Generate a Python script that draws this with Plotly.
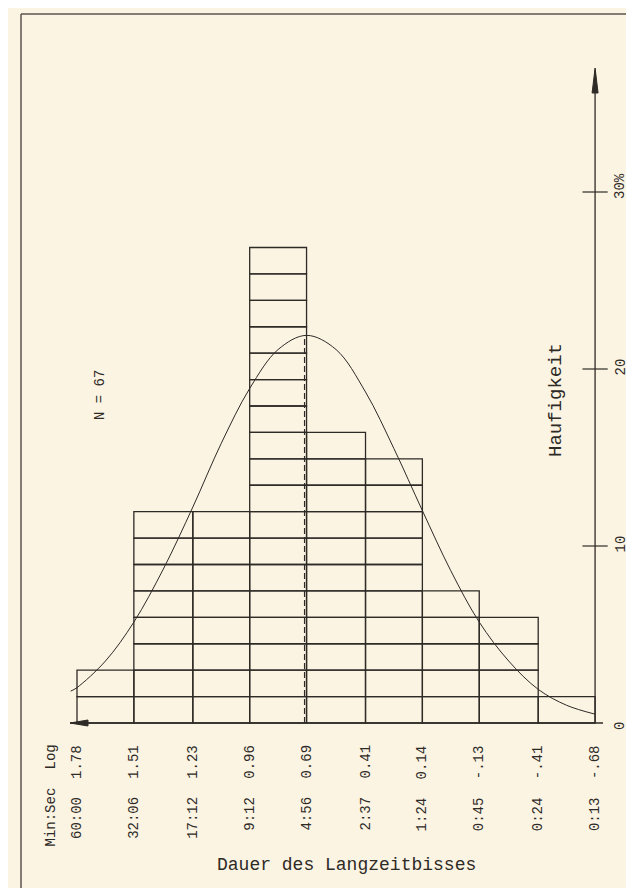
import plotly.graph_objects as go

# bin edges (log10 of minutes) and the two rows of labels under them
log_edges = [1.78, 1.51, 1.23, 0.96, 0.69, 0.41, 0.14, -0.13, -0.41, -0.68]
log_labels = ["1.78", "1.51", "1.23", "0.96", "0.69", "0.41", "0.14", "-.13", "-.41", "-.68"]
minsec_labels = ["60:00", "32:06", "17:12", "9:12", "4:56", "2:37", "1:24", "0:45", "0:24", "0:13"]

# observations per bin, one cell per observation
counts = [2, 8, 8, 18, 11, 10, 5, 4, 1]
n_total = 67

# fitted normal curve (percent)
curve_log = [1.81, 1.78, 1.645, 1.51, 1.37, 1.23, 1.095, 0.96, 0.825, 0.69,
             0.55, 0.41, 0.275, 0.14, 0.005, -0.13, -0.27, -0.41, -0.545, -0.68]
curve_pct = [1.8, 2.0, 3.5, 5.7, 8.7, 12.2, 15.8, 18.9, 21.1, 21.9,
             21.1, 18.7, 15.5, 12.0, 8.6, 5.7, 3.5, 1.9, 1.0, 0.5]
mean_log = 0.69
mean_pct = 21.9

freq_ticks = [0, 10, 20, 30]
freq_labels = ["0", "10", "20", "30%"]

W, H = 634, 888
INK = "#2e2a26"
BG = "#fbf4e3"
FONT = "Liberation Mono"

# page layout: where the first bin edge and the zero line sit, and the scales
X_PX0, PX_LOG = 69, 210.6
Y_PX0, PX_PCT = 715, 17.7


def px_x(p):
    return log_edges[0] - (p - X_PX0) / PX_LOG


def px_y(p):
    return (Y_PX0 - p) / PX_PCT


cell = 100.0 / n_total
bx, bw, bbase = [], [], []
for i, c in enumerate(counts):
    left, right = log_edges[i], log_edges[i + 1]
    for k in range(c):
        bx.append((left + right) / 2)
        bw.append(left - right)
        bbase.append(k * cell)

fig = go.Figure()
fig.add_bar(x=bx, y=[cell] * len(bx), base=bbase, width=bw,
            marker=dict(color="rgba(0,0,0,0)", line=dict(color=INK, width=1.3)),
            hoverinfo="skip")

fig.add_scatter(x=[mean_log + 2 / PX_LOG] * 2, y=[0, mean_pct], mode="lines",
                line=dict(color=INK, width=1.2, dash="6px,3px"))
fig.add_scatter(x=curve_log, y=curve_pct, mode="lines",
                line=dict(color=INK, width=1, shape="spline"))
axis_x = log_edges[-1]
fig.add_scatter(x=[axis_x] * 3, y=freq_ticks[1:], mode="markers",
                marker=dict(symbol="line-ew", size=18, line=dict(color=INK, width=1.2)))

# axes lines and arrowheads
fig.add_shape(type="line", x0=px_x(62), x1=px_x(595), y0=0, y1=0,
              line=dict(color=INK, width=1.5))
fig.add_shape(type="line", x0=axis_x, x1=axis_x, y0=0, y1=px_y(62),
              line=dict(color=INK, width=1.3))
hw = 3 / PX_LOG
fig.add_shape(type="path", fillcolor=INK, line=dict(color=INK, width=1),
              path=f"M {axis_x},{px_y(60)} L {axis_x - hw},{px_y(85)} L {axis_x + hw},{px_y(85)} Z")
fig.add_shape(type="path", fillcolor=INK, line=dict(color=INK, width=1),
              path=f"M {px_x(62)},0 L {px_x(80)},{3 / PX_PCT} L {px_x(80)},{-3 / PX_PCT} Z")

# page frame
fig.add_shape(type="line", xref="paper", yref="paper", x0=13 / W, x1=13 / W, y0=0, y1=1 - 6 / H,
              line=dict(color="#5a544d", width=1.5))
fig.add_shape(type="line", xref="paper", yref="paper", x0=13 / W, x1=1, y0=1 - 6 / H, y1=1 - 6 / H,
              line=dict(color="#5a544d", width=1.5))


def note(text, x, y, size, angle=-90, xanchor="center", yanchor="middle", yshift=0):
    fig.add_annotation(x=x, y=y, text=text, showarrow=False, textangle=angle,
                       xanchor=xanchor, yanchor=yanchor, yshift=yshift,
                       font=dict(family=FONT, size=size, color=INK))


for e, lab, ms in zip(log_edges, log_labels, minsec_labels):
    note(lab, e, px_y(735), 14, yanchor="top")
    note(ms, e, px_y(787), 14, yanchor="top")
note("Log", px_x(42), px_y(735), 14, yanchor="top")
note("Min:Sec", px_x(42), px_y(778), 14, yanchor="top")

for t, lab in zip(freq_ticks, freq_labels):
    note(lab, px_x(612), t, 14, yanchor="bottom", yshift=-9)

note("N = 67", px_x(92), px_y(387), 14)
note("Haufigkeit", px_x(548), px_y(392), 19)
note("Dauer des Langzeitbisses", px_x(338.5), px_y(857), 18, angle=0)

fig.update_layout(width=W, height=H, margin=dict(l=0, r=0, t=0, b=0, pad=0),
                  paper_bgcolor=BG, plot_bgcolor=BG, showlegend=False,
                  barmode="overlay")
fig.update_xaxes(visible=False, range=[px_x(0), px_x(W)])
fig.update_yaxes(visible=False, range=[px_y(H), px_y(0)])

fig.write_html("out.html")
